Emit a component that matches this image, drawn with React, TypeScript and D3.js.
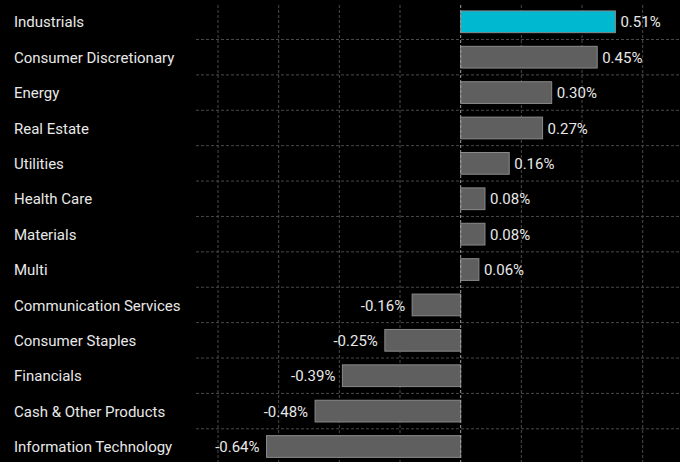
import * as d3 from 'd3';

const categories = [
  'Industrials',
  'Consumer Discretionary',
  'Energy',
  'Real Estate',
  'Utilities',
  'Health Care',
  'Materials',
  'Multi',
  'Communication Services',
  'Consumer Staples',
  'Financials',
  'Cash & Other Products',
  'Information Technology',
];
const values = [0.51, 0.45, 0.3, 0.27, 0.16, 0.08, 0.08, 0.06, -0.16, -0.25, -0.39, -0.48, -0.64];
const gridTicks = [-0.8, -0.6, -0.4, -0.2, 0, 0.2, 0.4, 0.6];
const highlight = 'Industrials';

const width = 680;
const height = 462;
const font = 'Roboto, "Noto Sans", sans-serif';

export default function App() {
  const x = d3.scaleLinear().domain([-0.8, 0.6]).range([218, 642.7]);
  const y = d3.scaleBand<string>()
    .domain(categories)
    .range([4.1, 464.2])
    .paddingInner(0.386)
    .paddingOuter(0.193);
  const step = y.step();
  const x0 = x(0);

  return (
    <svg
      width={width}
      height={height}
      style={{ position: 'absolute', left: 0, top: 0, background: '#000', display: 'block' }}
    >
      <rect width={width} height={height} fill="#000" />
      {/* horizontal grid between rows */}
      {categories.slice(1).map((c) => (
        <line
          key={'h' + c}
          x1={196}
          x2={width}
          y1={(y(c) ?? 0) - (step - y.bandwidth()) / 2}
          y2={(y(c) ?? 0) - (step - y.bandwidth()) / 2}
          stroke="#4a4a4a"
          strokeDasharray="3,2"
        />
      ))}
      {/* vertical grid */}
      {gridTicks.filter((t) => t !== 0).map((t) => (
        <line
          key={'v' + t}
          x1={x(t)}
          x2={x(t)}
          y1={5}
          y2={height}
          stroke="#4a4a4a"
          strokeDasharray="3,2"
        />
      ))}
      {/* bars */}
      {categories.map((c, i) => {
        const v = values[i];
        const left = Math.min(x(v), x0);
        return (
          <rect
            key={'b' + c}
            x={left}
            y={y(c)}
            width={Math.abs(x(v) - x0)}
            height={y.bandwidth()}
            fill={c === highlight ? '#00b8cf' : '#5f5f5f'}
            stroke="#8a8a8a"
            strokeWidth={1}
          />
        );
      })}
      {/* zero line */}
      <line x1={x0} x2={x0} y1={5} y2={height} stroke="#a0a0a0" strokeDasharray="3,2" />
      {/* category labels */}
      {categories.map((c) => (
        <text
          key={'l' + c}
          x={14}
          y={(y(c) ?? 0) + y.bandwidth() / 2}
          dy="0.38em"
          fill="#e8e8e8"
          fontFamily={font}
          fontSize={15}
        >
          {c}
        </text>
      ))}
      {/* value labels */}
      {categories.map((c, i) => {
        const v = values[i];
        return (
          <text
            key={'v' + c}
            x={v >= 0 ? x(v) + 5 : x(v) - 7}
            y={(y(c) ?? 0) + y.bandwidth() / 2}
            dy="0.38em"
            textAnchor={v >= 0 ? 'start' : 'end'}
            fill="#e8e8e8"
            fontFamily={font}
            fontSize={15}
          >
            {v.toFixed(2) + '%'}
          </text>
        );
      })}
    </svg>
  );
}
